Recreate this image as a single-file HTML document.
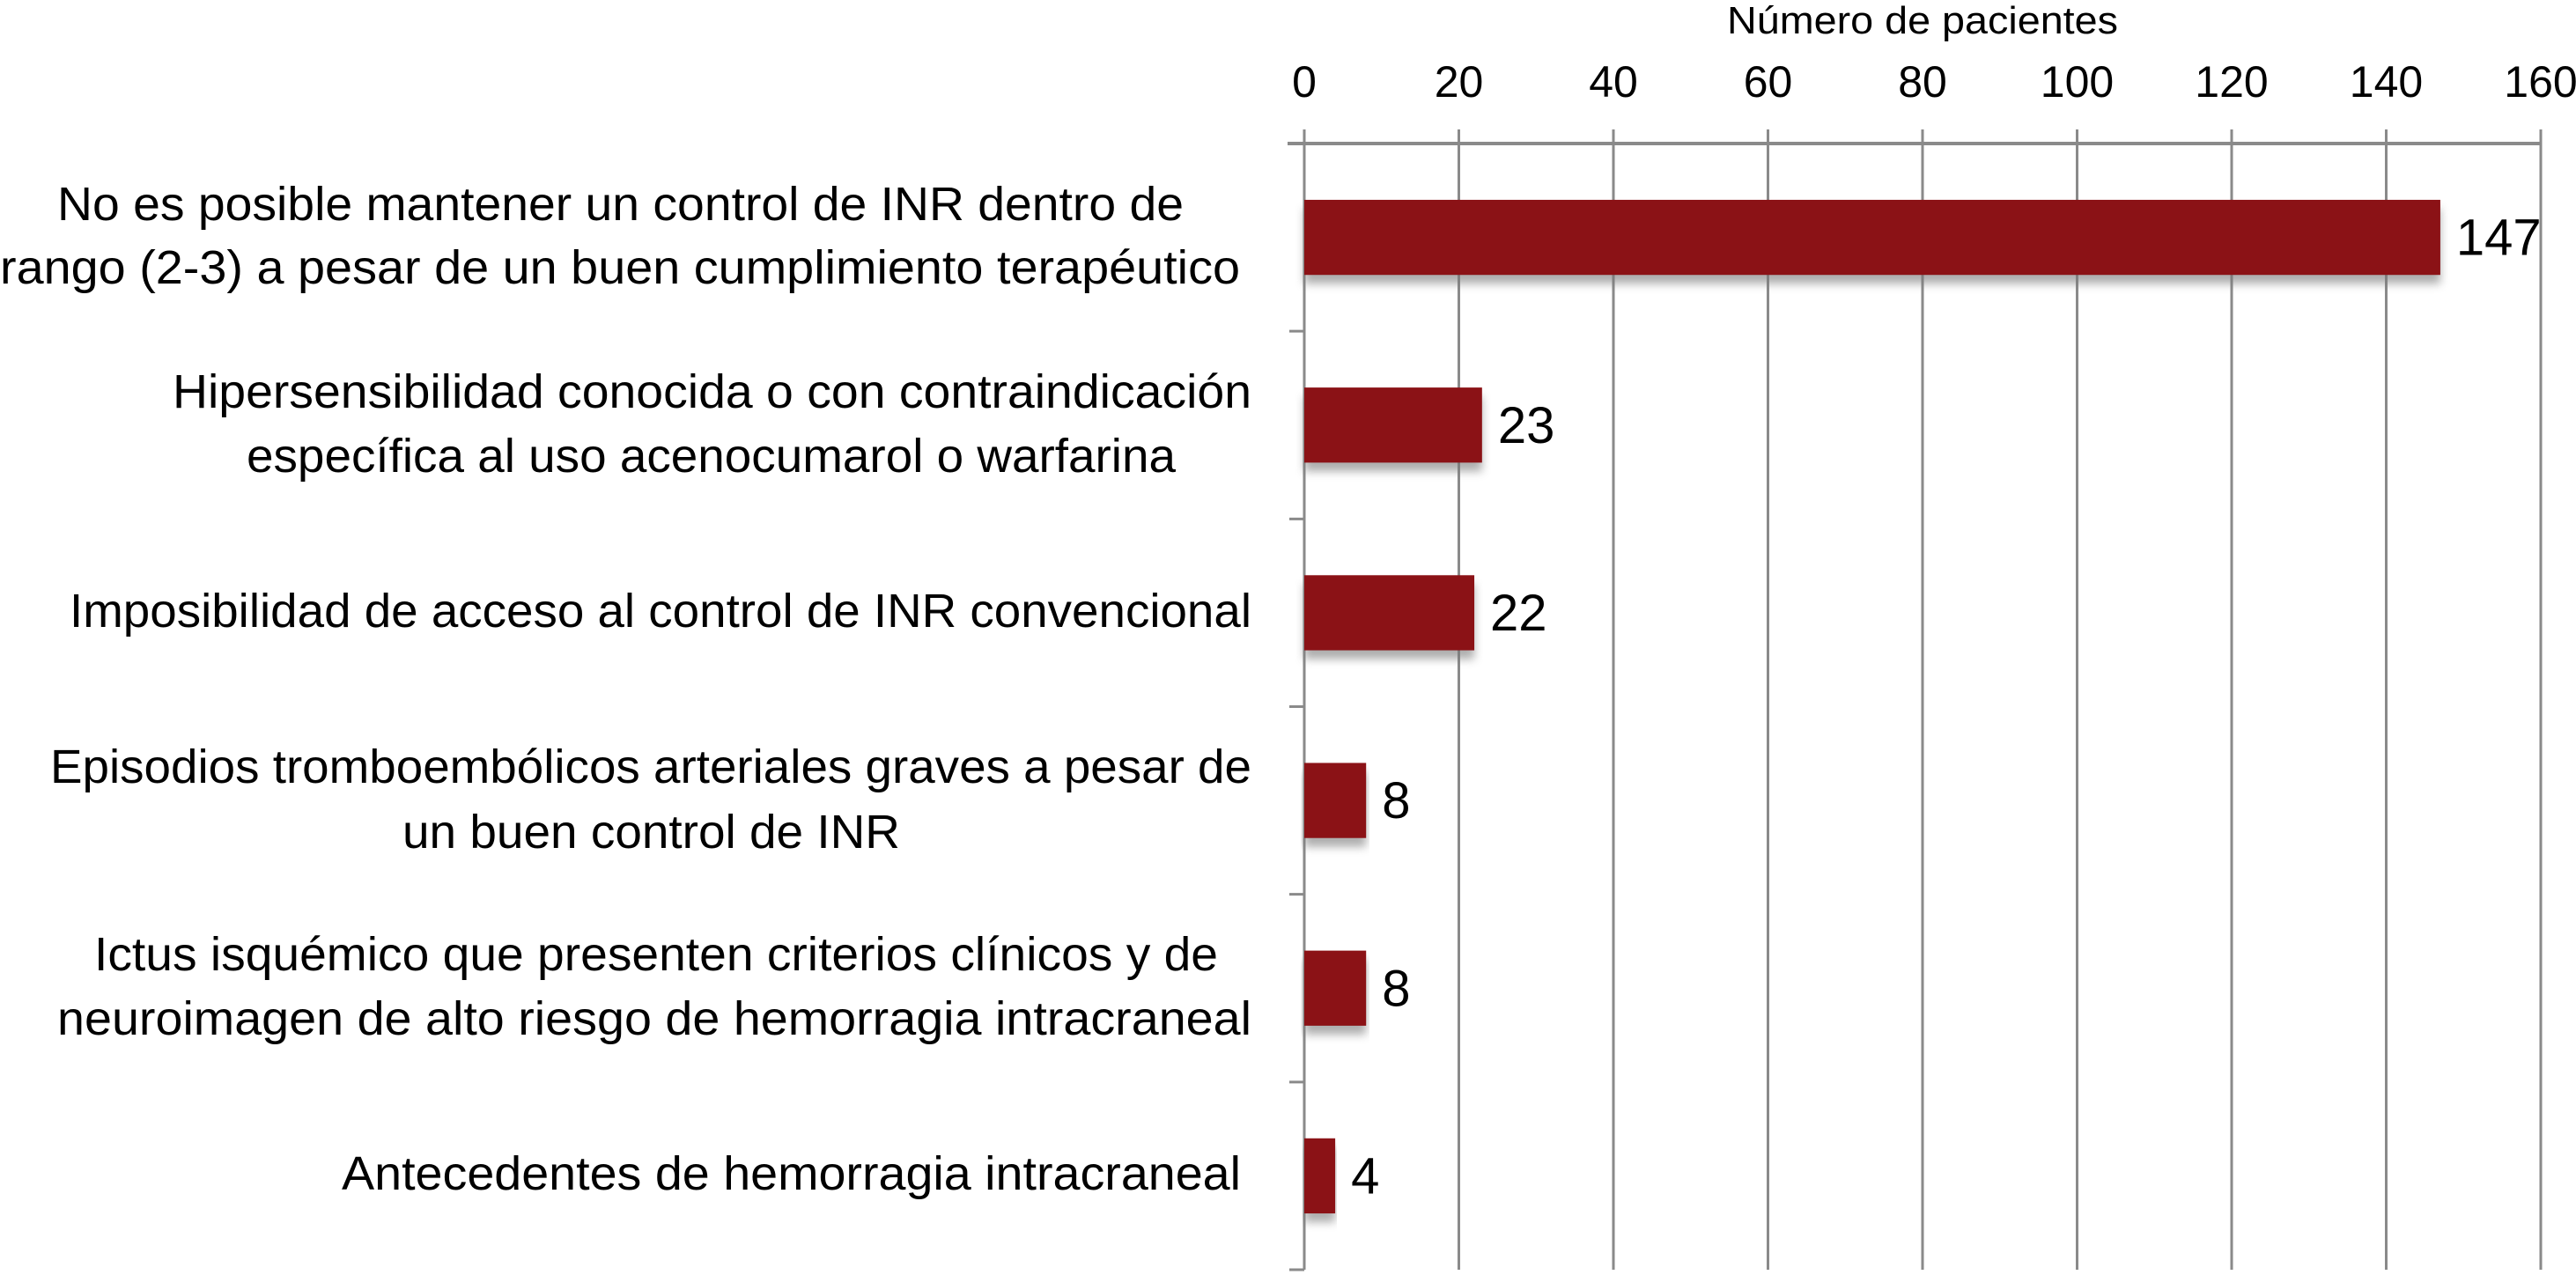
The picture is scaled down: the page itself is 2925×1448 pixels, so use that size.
<!DOCTYPE html>
<html><head><meta charset="utf-8"><style>
html,body{margin:0;padding:0;background:#fff;}
svg{display:block;font-family:"Liberation Sans",sans-serif;}
</style></head><body>
<svg id="chart" width="2925" height="1448" viewBox="0 0 2925 1448" xmlns="http://www.w3.org/2000/svg">
<defs><filter id="sh" x="-5%" y="-20%" width="110%" height="160%"><feGaussianBlur stdDeviation="5"/></filter></defs>
<text x="2183" y="38" font-size="44" text-anchor="middle" textLength="444" lengthAdjust="spacingAndGlyphs">Número de pacientes</text>
<g id="grid"></g><g id="bars"></g><g id="labels"></g>
</svg>
<script>
const categories = [
 ["No es posible mantener un control de INR dentro de","rango (2-3) a pesar de un buen cumplimiento terapéutico"],
 ["Hipersensibilidad conocida o con contraindicación","específica al uso acenocumarol o warfarina"],
 ["Imposibilidad de acceso al control de INR convencional"],
 ["Episodios tromboembólicos arteriales graves a pesar de","un buen control de INR"],
 ["Ictus isquémico que presenten criterios clínicos y de","neuroimagen de alto riesgo de hemorragia intracraneal"],
 ["Antecedentes de hemorragia intracraneal"]
];
const values = [147, 23, 22, 8, 8, 4];
const ticks = [0, 20, 40, 60, 80, 100, 120, 140, 160];
const NS = "http://www.w3.org/2000/svg";
const X0 = 1481, X1 = 2885, Y0 = 163, Y1 = 1442;
const xs = v => X0 + (v - 0) / 160 * (X1 - X0);
const band = (Y1 - Y0) / categories.length;
const yc = i => Y0 + band * (i + 0.5);
// label geometry (layout only)
const lineLayouts = [
 [[65,250,1279],[0,322,1408]],
 [[196,463,1225],[280,536,1055]],
 [[79,712,1342]],
 [[57,889,1364],[457,963,565]],
 [[107,1102,1276],[65,1175,1356]],
 [[388,1351,1021]]
];
function mk(tag, attrs, parent){const e=document.createElementNS(NS,tag);for(const k in attrs)e.setAttribute(k,attrs[k]);parent.appendChild(e);return e;}
const grid=document.getElementById('grid'), bars=document.getElementById('bars'), labels=document.getElementById('labels');
ticks.forEach(t=>{
  const l=mk('line',{x1:xs(t),x2:xs(t),y1:147,y2:Y1,stroke:'#8a8a8a','stroke-width':3},grid);
  
  
  const tx=mk('text',{x:xs(t),y:110,'font-size':50,'text-anchor':'middle'},grid);
  tx.textContent=t;
  
  
});
const ax=mk('line',{x1:1462,x2:X1,y1:Y0,y2:Y0,stroke:'#8a8a8a','stroke-width':4},grid);


const ay=mk('line',{x1:X0,x2:X0,y1:Y0,y2:Y1,stroke:'#8a8a8a','stroke-width':3},grid);


for(let i=0;i<=categories.length;i++){
  const tk=mk('line',{x1:1464,x2:X0,y1:Y0+band*i,y2:Y0+band*i,stroke:'#8a8a8a','stroke-width':3},grid);
  
  
}
const bh = band*0.4;
values.forEach((v,i)=>{
  const y=yc(i)-bh/2;
  const s=mk('rect',{x:X0,y:y+10,width:xs(v)-X0,height:bh,fill:'#777',opacity:0.6,filter:'url(#sh)'},bars);
  
  
  const r=mk('rect',{x:X0,y:y,width:xs(v)-X0,height:bh,fill:'#8b1216'},bars);
  
  
  const t=mk('text',{x:xs(v)+18,y:yc(i)+20,'font-size':58},labels);
  t.textContent=v;
  
  
  categories[i].forEach((line,j)=>{
    const L=lineLayouts[i][j];
    const c=mk('text',{x:L[0],y:L[1],'font-size':54,textLength:L[2],lengthAdjust:'spacingAndGlyphs'},labels);
    c.textContent=line;
    
    
  });
});
</script>
</body></html>
